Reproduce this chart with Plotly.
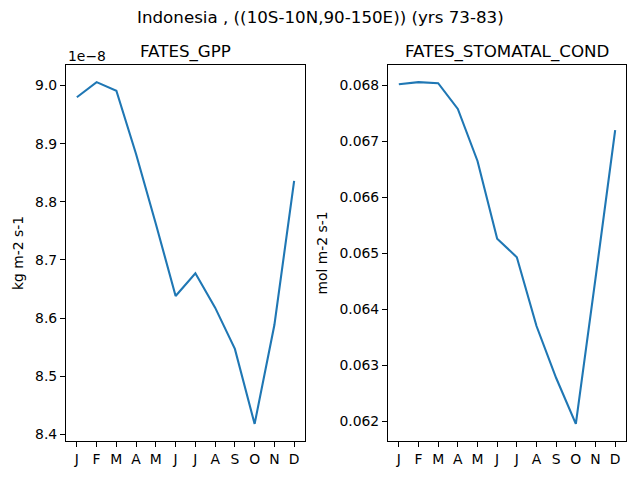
import plotly.graph_objects as go

months = ["J", "F", "M", "A", "M", "J", "J", "A", "S", "O", "N", "D"]
# FATES_GPP, in units of 1e-8 kg m-2 s-1
gpp_e8 = [8.980, 9.006, 8.991, 8.882, 8.762, 8.638, 8.677, 8.618, 8.547, 8.418, 8.588, 8.836]
# FATES_STOMATAL_COND, mol m-2 s-1
stomatal = [0.06802, 0.06806, 0.06804, 0.06758, 0.06665, 0.06526, 0.06493,
            0.06370, 0.06277, 0.06195, 0.06455, 0.06720]

# the page body has an 8px margin, so the figure is drawn 8px smaller
OFF = 8
W, H = 640 - OFF, 480 - OFF
font = "DejaVu Sans"
blue = "#1f77b4"
tick_px = 13.9
title_px = 16.7

x = list(range(len(months)))


def px(v):
    return (v - OFF) / W


def py(v):
    return 1 - (v - OFF) / H


def pad(vals):
    lo, hi = min(vals), max(vals)
    m = (hi - lo) * 0.05
    return [lo - m, hi + m]


fig = go.Figure()
fig.add_trace(go.Scatter(x=x, y=gpp_e8, mode="lines", line=dict(color=blue, width=2.1),
                         xaxis="x", yaxis="y", showlegend=False))
fig.add_trace(go.Scatter(x=x, y=stomatal, mode="lines", line=dict(color=blue, width=2.1),
                         xaxis="x2", yaxis="y2", showlegend=False))

ydom = [py(441), py(65)]
axis_style = dict(showline=True, linecolor="black", linewidth=1.1, mirror=True,
                  ticks="outside", ticklen=5, tickwidth=1.1, tickcolor="black",
                  showgrid=False, zeroline=False, automargin=False,
                  tickfont=dict(family=font, size=tick_px, color="black"))

xr = [-0.55, len(months) - 1 + 0.55]
fig.update_layout(
    width=W, height=H,
    margin=dict(l=0, r=0, t=0, b=0),
    paper_bgcolor="white", plot_bgcolor="white",
    font=dict(family=font, color="black"),
    xaxis=dict(domain=[px(66), px(305)], range=xr, tickvals=x, ticktext=months,
               anchor="y", **axis_style),
    yaxis=dict(domain=ydom, range=pad(gpp_e8), dtick=0.1, tickformat=".1f", anchor="x",
               title=dict(text="kg m-2 s-1", standoff=8,
                          font=dict(family=font, size=tick_px, color="black")),
               **axis_style),
    xaxis2=dict(domain=[px(388), px(626)], range=xr, tickvals=x, ticktext=months,
                anchor="y2", **axis_style),
    yaxis2=dict(domain=ydom, range=pad(stomatal), dtick=0.001, tickformat=".3f", anchor="x2",
                title=dict(text="mol m-2 s-1", standoff=8,
                           font=dict(family=font, size=tick_px, color="black")),
                **axis_style),
)

fig.add_annotation(text="Indonesia , ((10S-10N,90-150E)) (yrs 73-83)",
                   x=px(320), y=py(17), xref="paper", yref="paper",
                   xanchor="center", yanchor="middle", showarrow=False,
                   font=dict(family=font, size=title_px, color="black"))
fig.add_annotation(text="FATES_GPP", x=px((66 + 305) / 2), y=py(52),
                   xref="paper", yref="paper", xanchor="center", yanchor="middle",
                   showarrow=False, font=dict(family=font, size=title_px, color="black"))
fig.add_annotation(text="FATES_STOMATAL_COND", x=px((388 + 626) / 2), y=py(52),
                   xref="paper", yref="paper", xanchor="center", yanchor="middle",
                   showarrow=False, font=dict(family=font, size=title_px, color="black"))
fig.add_annotation(text="1e\u22128", x=px(66), y=py(56),
                   xref="paper", yref="paper", xanchor="left", yanchor="middle",
                   showarrow=False, font=dict(family=font, size=tick_px, color="black"))

fig.write_html("out.html")
